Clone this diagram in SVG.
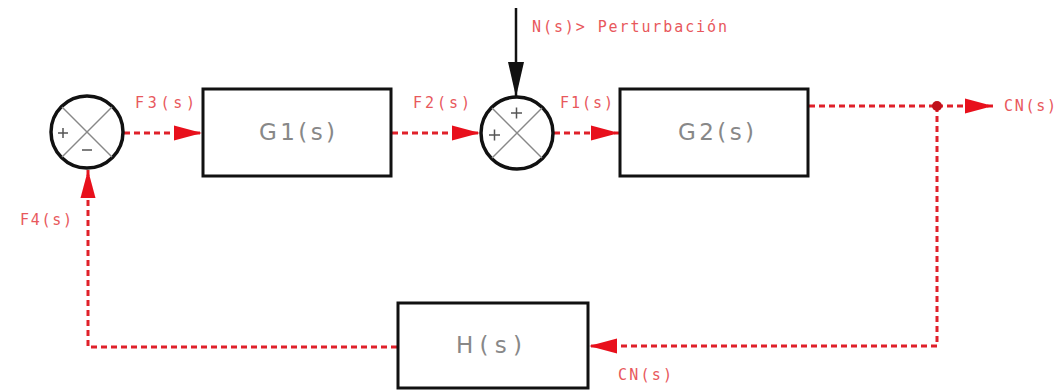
<svg xmlns="http://www.w3.org/2000/svg" width="1057" height="391" viewBox="0 0 1057 391">
<style>
.box{fill:#fff;stroke:#111;stroke-width:3}
.sum{fill:#fff;stroke:#111;stroke-width:3.5}
.x{stroke:#888;stroke-width:1.5}
.sign{stroke:#555;stroke-width:1.5}
.dash{fill:none;stroke:#e0202a;stroke-width:3;stroke-dasharray:6 4}
.lbl{font-family:"DejaVu Sans Mono","Liberation Mono",monospace;font-size:15px;fill:#e8585c}
.blk{font-family:"DejaVu Sans","Liberation Sans",sans-serif;font-size:23px;fill:#888;text-anchor:middle;dominant-baseline:central}
.ah{fill:#e8101c}
</style>
<defs>
<marker id="ar" viewBox="0 0 28 16" refX="28" refY="8" markerWidth="28" markerHeight="16" markerUnits="userSpaceOnUse" orient="auto">
<path class="ah" d="M0,0.5 L28,8 L0,15.5 Z"/>
</marker>
</defs>
<g id="connectors">
<line class="dash" x1="124" y1="133" x2="202" y2="133" marker-end="url(#ar)"/>
<line class="dash" x1="392" y1="133" x2="480" y2="133" marker-end="url(#ar)"/>
<line class="dash" x1="554" y1="133" x2="619" y2="133" marker-end="url(#ar)"/>
<line class="dash" x1="809" y1="106" x2="937" y2="106"/>
<line class="dash" x1="937" y1="106" x2="993" y2="106" marker-end="url(#ar)"/>
<polyline class="dash" points="937,106 937,346 589,346" marker-end="url(#ar)"/>
<polyline class="dash" points="397,347 88,347 88,170" marker-end="url(#ar)"/>
<circle cx="937" cy="106" r="5" fill="#c0101a"/>
<line x1="516" y1="8" x2="516" y2="97" stroke="#111" stroke-width="2.5"/>
<path d="M508,62 L524,62 L516,97 Z" fill="#111"/>
</g>
<g id="sum1">
<circle class="sum" cx="87" cy="132" r="36"/>
<line class="x" x1="62" y1="107" x2="112" y2="157"/>
<line class="x" x1="112" y1="107" x2="62" y2="157"/>
<path class="sign" d="M58,133 h10 M63,128 v10"/>
<path class="sign" d="M82,150 h10"/>
</g>
<g id="G1">
<rect class="box" x="203" y="89" width="188" height="87"/>
<text class="blk" x="297" y="132" textLength="76">G1(s)</text>
</g>
<g id="sum2">
<circle class="sum" cx="517" cy="133" r="36"/>
<line class="x" x1="492" y1="108" x2="542" y2="158"/>
<line class="x" x1="542" y1="108" x2="492" y2="158"/>
<path class="sign" d="M511,113 h11 M516.5,107.5 v11"/>
<path class="sign" d="M489,135 h11 M494.5,129.5 v11"/>
</g>
<g id="G2">
<rect class="box" x="620" y="89" width="188" height="87"/>
<text class="blk" x="716" y="132" textLength="76">G2(s)</text>
</g>
<g id="H">
<rect class="box" x="398" y="303" width="190" height="85"/>
<text class="blk" x="489" y="345" textLength="66">H(s)</text>
</g>
<g id="labels">
<text class="lbl" x="135" y="108" textLength="60">F3(s)</text>
<text class="lbl" x="413" y="108" textLength="57">F2(s)</text>
<text class="lbl" x="560" y="108" textLength="53">F1(s)</text>
<text class="lbl" x="532" y="32" textLength="195">N(s)&gt; Perturbación</text>
<text class="lbl" x="1004" y="111" textLength="52">CN(s)</text>
<text class="lbl" x="20" y="225" textLength="52">F4(s)</text>
<text class="lbl" x="618" y="380" textLength="54">CN(s)</text>
</g>
</svg>
